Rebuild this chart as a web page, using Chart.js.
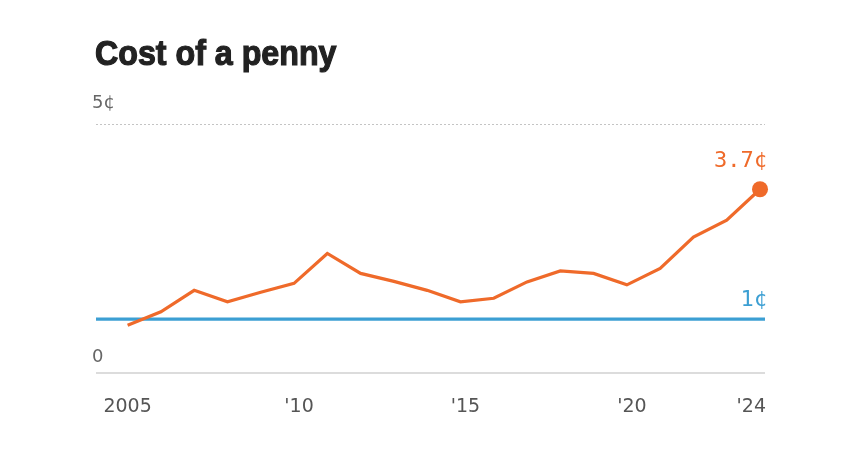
<!DOCTYPE html>
<html><head><meta charset="utf-8">
<script src="https://cdn.jsdelivr.net/npm/chart.js@4.4.1/dist/chart.umd.min.js"></script>
<style>html,body{margin:0;padding:0;background:#fff;} #wrap{width:860px;height:452px;position:relative;}</style>
</head><body><div id="wrap"><canvas id="c"></canvas></div>
<script>
// ---- data ----
const years = [2005,2006,2007,2008,2009,2010,2011,2012,2013,2014,2015,2016,2017,2018,2019,2020,2021,2022,2023,2024];
const costCents = [0.96,1.23,1.66,1.43,1.62,1.80,2.40,2.00,1.84,1.66,1.43,1.50,1.83,2.05,2.00,1.77,2.10,2.73,3.07,3.69];
const faceValueLevel = 1.08;           // blue "1¢" reference line, as drawn
const xTickYears = [2005,2010,2015,2020,2024];
const xTickLabels = ['2005',"'10","'15","'20","'24"];
const yTickValues = [0,5];
const yTickLabels = ['0','5¢'];
const titleText = 'Cost of a penny';
const lastLabel = '3.7¢';
const faceLabel = '1¢';
const xMin = 2004.05, xMax = 2024.15;

const ORANGE = '#EF6A2A';
const BLUE = '#3C9FD3';

const decor = {
  id: 'decor',
  beforeDatasetsDraw(chart) {
    const {ctx, chartArea: a, scales: {y}} = chart;
    ctx.save();
    ctx.strokeStyle = '#c4c4c4';
    ctx.lineWidth = 1;
    ctx.setLineDash([2, 2]);
    const y5 = Math.round(y.getPixelForValue(yTickValues[1])) + 0.5;
    ctx.beginPath(); ctx.moveTo(a.left, y5); ctx.lineTo(a.right, y5); ctx.stroke();
    ctx.setLineDash([]);
    ctx.strokeStyle = '#dcdcdc';
    ctx.lineWidth = 2;
    const y0 = y.getPixelForValue(yTickValues[0]);
    ctx.beginPath(); ctx.moveTo(a.left, y0); ctx.lineTo(a.right, y0); ctx.stroke();
    ctx.restore();
  },
  afterDraw(chart) {
    const {ctx, chartArea: a, scales: {x, y}} = chart;
    ctx.save();
    // title
    ctx.fillStyle = '#222';
    ctx.strokeStyle = '#222';
    ctx.lineWidth = 1.2;
    ctx.textBaseline = 'alphabetic';
    ctx.textAlign = 'left';
    ctx.save();
    ctx.translate(95, 65);
    ctx.scale(0.92, 1);
    ctx.font = 'bold 35px "Liberation Sans", Arial, sans-serif';
    ctx.fillText(titleText, 0, 0);
    ctx.strokeText(titleText, 0, 0);
    ctx.restore();
    // y tick labels (above their lines)
    ctx.fillStyle = '#666';
    ctx.font = '18px "DejaVu Sans", sans-serif';
    ctx.textBaseline = 'middle';
    ctx.fillText(yTickLabels[1], 92, y.getPixelForValue(yTickValues[1]) - 21);
    ctx.fillText(yTickLabels[0], 92, y.getPixelForValue(yTickValues[0]) - 16);
    // x tick labels
    ctx.font = '19px "DejaVu Sans", sans-serif';
    ctx.fillStyle = '#555';
    xTickYears.forEach((yr, i) => {
      const px = x.getPixelForValue(yr);
      const lab = xTickLabels[i];
      if (i === xTickYears.length - 1) {
        ctx.textAlign = 'right';
        ctx.fillText(lab, a.right + 1, 407);
      } else {
        ctx.textAlign = 'center';
        ctx.fillText(lab, px + (lab[0] === "'" ? 5 : 0), 407);
      }
    });
    // end labels
    ctx.font = '22px "DejaVu Sans Mono", monospace';
    ctx.textAlign = 'right';
    ctx.fillStyle = ORANGE;
    ctx.fillText(lastLabel, a.right + 2, y.getPixelForValue(costCents[costCents.length - 1]) - 28);
    ctx.fillStyle = BLUE;
    ctx.fillText(faceLabel, a.right + 2, y.getPixelForValue(faceValueLevel) - 19);
    ctx.restore();
  }
};

new Chart(document.getElementById('c'), {
  type: 'line',
  data: {
    datasets: [
      {
        label: 'Cost',
        data: years.map((yr, i) => ({x: yr, y: costCents[i]})),
        borderColor: ORANGE,
        backgroundColor: ORANGE,
        borderWidth: 3.2,
        tension: 0,
        pointRadius: years.map((_, i) => i === years.length - 1 ? 8 : 0),
        pointHoverRadius: 0,
        pointBorderWidth: 0,
        clip: false,
        order: 0
      },
      {
        label: 'Face value',
        data: [{x: xMin, y: faceValueLevel}, {x: xMax, y: faceValueLevel}],
        borderColor: BLUE,
        borderWidth: 3.2,
        pointRadius: 0,
        clip: false,
        order: 1
      }
    ]
  },
  options: {
    responsive: true,
    maintainAspectRatio: false,
    animation: false,
    events: [],
    layout: {padding: {left: 96, right: 95, top: 124, bottom: 79}},
    plugins: {legend: {display: false}, tooltip: {enabled: false}, title: {display: false}},
    scales: {
      x: {type: 'linear', min: xMin, max: xMax, display: false},
      y: {type: 'linear', min: 0, max: 5, display: false}
    }
  },
  plugins: [decor]
});
</script></body></html>
